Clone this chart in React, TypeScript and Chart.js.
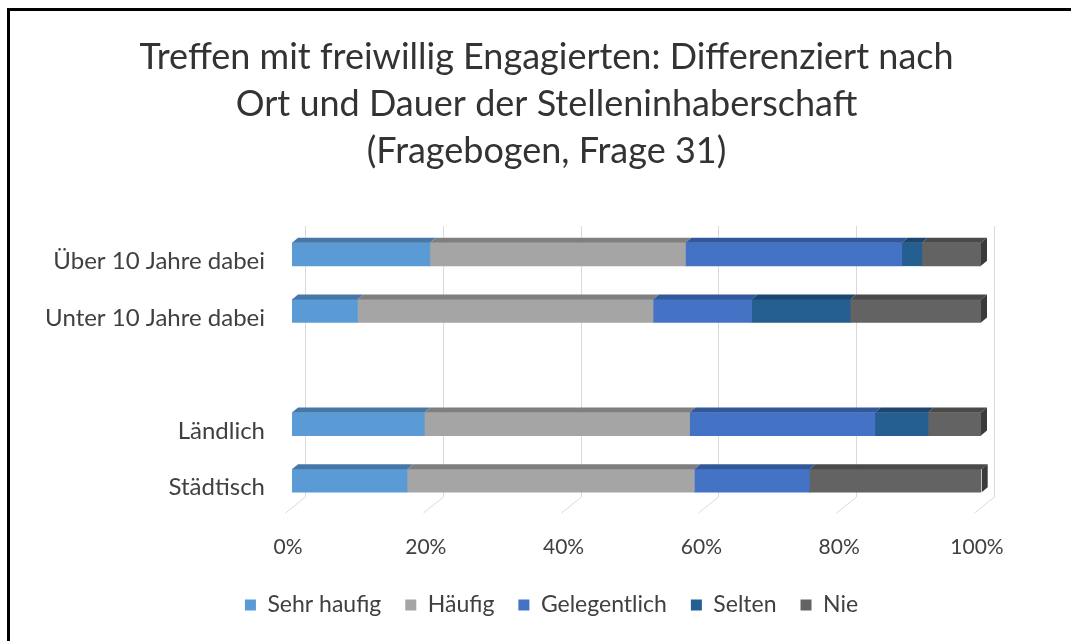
import React, { useEffect, useRef } from "react";
import { Chart, registerables } from "chart.js";

Chart.register(...registerables);

// ---------- data ----------
const categories = ["Über 10 Jahre dabei", "Unter 10 Jahre dabei", "", "Ländlich", "Städtisch"];
const seriesNames = ["Sehr haufig", "Häufig", "Gelegentlich", "Selten", "Nie"];
const sehrHaufig = [20.0, 9.5, null, 19.2, 16.7];
const haufig = [37.1, 42.9, null, 38.5, 41.7];
const gelegentlich = [31.4, 14.3, null, 26.9, 16.7];
const selten = [2.9, 14.3, null, 7.7, 0];
const nie = [8.6, 19.0, null, 7.7, 25.0];
const xTicks = [0, 20, 40, 60, 80, 100];
const titleLines = [
  "Treffen mit freiwillig Engagierten: Differenziert nach",
  "Ort und Dauer der Stelleninhaberschaft",
  "(Fragebogen, Frage 31)",
];

// ---------- styles ----------
const FONT = "Lato, 'Open Sans', sans-serif";
const frontColors = ["#5B9BD5", "#A5A5A5", "#4472C4", "#255E91", "#636363"];
const topColors = ["#4677A6", "#7F7F7F", "#33589A", "#1C4670", "#4A4A4A"];
const sideColors = ["#3A6590", "#6B6B6B", "#2B4B85", "#173A5E", "#3A3A3A"];
const DX = 6;
const DY = 5;

const bar3d = {
  id: "bar3d",
  afterLayout(chart: any) {
    const t = chart.titleBlock;
    if (t) {
      t.left += 41;
      t.right += 41;
    }
    const l = chart.legend;
    if (l) {
      l.left += 46;
      l.right += 46;
    }
  },
  beforeDatasetsDraw(chart: any) {
    const { ctx, chartArea, scales } = chart;
    const x = scales.x;
    const floorBack = chartArea.bottom - 12;
    ctx.save();
    ctx.strokeStyle = "#D9D9D9";
    ctx.lineWidth = 1;
    for (const v of xTicks) {
      const px = Math.round(x.getPixelForValue(v) + 13) + 0.5;
      ctx.beginPath();
      ctx.moveTo(px, chartArea.top);
      ctx.lineTo(px, floorBack);
      ctx.lineTo(px - 20, floorBack + 16);
      ctx.stroke();
    }
    ctx.restore();
  },
  afterDatasetsDraw(chart: any) {
    const { ctx } = chart;
    const n = chart.data.labels.length;
    ctx.save();
    for (let i = 0; i < n; i++) {
      let lastEl: any = null;
      let lastD = -1;
      chart.data.datasets.forEach((ds: any, d: number) => {
        const v = ds.data[i];
        if (v === null || v === undefined || v === 0) return;
        const el = chart.getDatasetMeta(d).data[i];
        if (!el) return;
        const p = el.getProps(["x", "y", "base", "height"], true);
        const top = p.y - p.height / 2;
        const x0 = Math.min(p.base, p.x);
        const x1 = Math.max(p.base, p.x);
        ctx.fillStyle = topColors[d];
        ctx.beginPath();
        ctx.moveTo(x0, top);
        ctx.lineTo(x1, top);
        ctx.lineTo(x1 + DX, top - DY);
        ctx.lineTo(x0 + DX, top - DY);
        ctx.closePath();
        ctx.fill();
        lastEl = p;
        lastD = d;
      });
      if (lastEl) {
        const top = lastEl.y - lastEl.height / 2;
        const bottom = lastEl.y + lastEl.height / 2;
        const x1 = Math.max(lastEl.base, lastEl.x);
        ctx.fillStyle = sideColors[lastD];
        ctx.beginPath();
        ctx.moveTo(x1, top);
        ctx.lineTo(x1 + DX, top - DY);
        ctx.lineTo(x1 + DX, bottom - DY);
        ctx.lineTo(x1, bottom);
        ctx.closePath();
        ctx.fill();
      }
    }
    ctx.restore();
  },
};

export default function App() {
  const canvasRef = useRef<HTMLCanvasElement | null>(null);

  useEffect(() => {
    if (!canvasRef.current) return;
    const seriesData = [sehrHaufig, haufig, gelegentlich, selten, nie];
    const chart = new Chart(canvasRef.current, {
      type: "bar",
      data: {
        labels: categories,
        datasets: seriesNames.map((name, i) => ({
          label: name,
          data: seriesData[i],
          backgroundColor: frontColors[i],
          borderWidth: 0,
          barThickness: 23,
        })),
      },
      options: {
        indexAxis: "y",
        animation: false,
        responsive: false,
        devicePixelRatio: 1,
        layout: { padding: { left: 30, right: 90, top: 0, bottom: 14.5 } },
        scales: {
          x: {
            stacked: true,
            min: 0,
            max: 100,
            grid: { display: false },
            border: { display: false },
            ticks: {
              stepSize: 20,
              padding: 18,
              labelOffset: -4,
              color: "#404040",
              font: { family: FONT, size: 21 },
              callback: (v: any) => v + "%",
            },
            afterFit: (s: any) => {
              s.height = 60.5;
            },
          },
          y: {
            stacked: true,
            grid: { display: false },
            border: { display: false },
            ticks: {
              padding: 19,
              labelOffset: 7,
              color: "#404040",
              font: { family: FONT, size: 24 },
            },
            afterFit: (s: any) => {
              s.width = 262;
            },
          },
        },
        plugins: {
          title: {
            display: true,
            text: titleLines,
            color: "#333333",
            font: { family: FONT, size: 36, weight: "normal", lineHeight: 47 / 36 },
            padding: { top: 33.5, bottom: 51.5 },
          },
          legend: {
            display: true,
            position: "bottom",
            labels: {
              boxWidth: 11,
              boxHeight: 11,
              padding: 24,
              color: "#404040",
              font: { family: FONT, size: 23 },
            },
          },
          tooltip: { enabled: false },
        },
      },
      plugins: [bar3d],
    });
    return () => chart.destroy();
  }, []);

  return (
    <div style={{ position: "absolute", left: 0, top: 0, width: 1071, height: 641, background: "#fff", overflow: "hidden" }}>
      <canvas ref={canvasRef} width={1071} height={641} style={{ position: "absolute", left: 0, top: 0, width: 1071, height: 641 }} />
      <div style={{ position: "absolute", left: 7, top: 8, width: 1064, height: 3, background: "#000" }} />
      <div style={{ position: "absolute", left: 7, top: 8, width: 3, height: 633, background: "#000" }} />
    </div>
  );
}
